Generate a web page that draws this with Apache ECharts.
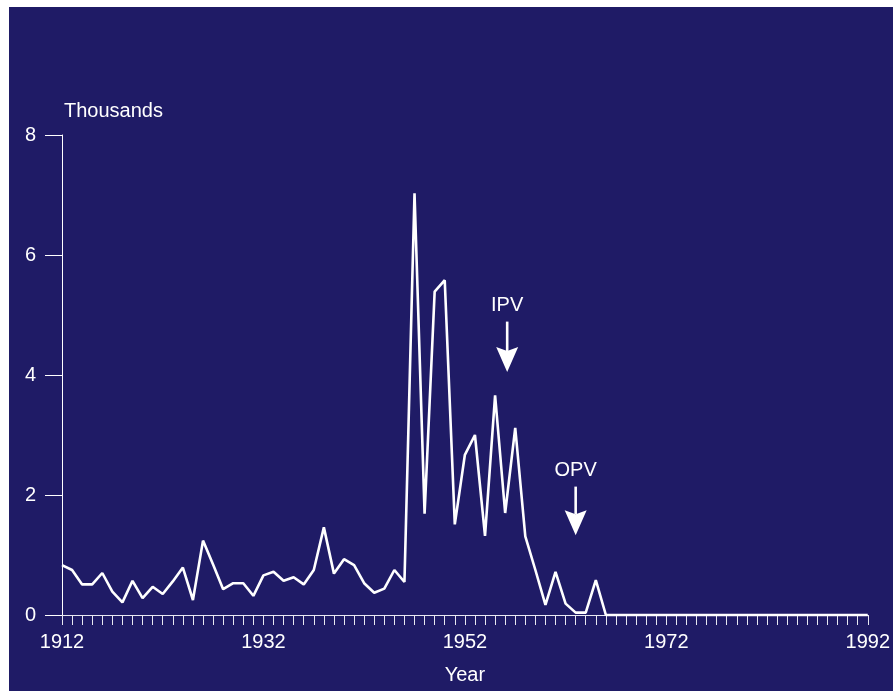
<!DOCTYPE html>
<html>
<head>
<meta charset="utf-8">
<script src="https://cdn.jsdelivr.net/npm/echarts@6/dist/echarts.min.js"></script>
<style>
  html, body { margin: 0; padding: 0; background: #ffffff; width: 893px; height: 691px; overflow: hidden; }
  #chart { position: absolute; left: 9px; top: 7px; width: 884px; height: 684px; }
</style>
</head>
<body>
<div id="chart"></div>
<script>
// Reported cases per year, in thousands
const years = [
  1912, 1913, 1914, 1915, 1916, 1917, 1918, 1919, 1920, 1921,
  1922, 1923, 1924, 1925, 1926, 1927, 1928, 1929, 1930, 1931,
  1932, 1933, 1934, 1935, 1936, 1937, 1938, 1939, 1940, 1941,
  1942, 1943, 1944, 1945, 1946, 1947, 1948, 1949, 1950, 1951,
  1952, 1953, 1954, 1955, 1956, 1957, 1958, 1959, 1960, 1961,
  1962, 1963, 1964, 1965, 1966, 1967, 1968, 1969, 1970, 1971,
  1972, 1973, 1974, 1975, 1976, 1977, 1978, 1979, 1980, 1981,
  1982, 1983, 1984, 1985, 1986, 1987, 1988, 1989, 1990, 1991,
  1992
];
const cases = [
  0.83, 0.75, 0.51, 0.51, 0.70, 0.39, 0.21, 0.57, 0.28, 0.47,
  0.35, 0.56, 0.79, 0.25, 1.24, 0.84, 0.43, 0.53, 0.53, 0.32,
  0.66, 0.72, 0.57, 0.63, 0.51, 0.75, 1.46, 0.69, 0.93, 0.83,
  0.53, 0.37, 0.44, 0.75, 0.55, 7.03, 1.69, 5.39, 5.58, 1.51,
  2.67, 3.00, 1.32, 3.66, 1.70, 3.12, 1.31, 0.75, 0.17, 0.72,
  0.19, 0.04, 0.04, 0.58, 0.00, 0.00, 0.00, 0.00, 0.00, 0.00,
  0.00, 0.00, 0.00, 0.00, 0.00, 0.00, 0.00, 0.00, 0.00, 0.00,
  0.00, 0.00, 0.00, 0.00, 0.00, 0.00, 0.00, 0.00, 0.00, 0.00,
  0.00
];
const xTicks = [1912, 1932, 1952, 1972, 1992];
const yTicks = [0, 2, 4, 6, 8];

// Vaccine introduction markers: arrow drawn from `top` down to `tip` (thousands)
const vaccineMarks = [
  { text: 'IPV', year: 1956.2, top: 4.89, tip: 4.05 },
  { text: 'OPV', year: 1963.0, top: 2.14, tip: 1.33 }
];

const FONT = '"Liberation Sans", Arial, Helvetica, sans-serif';
const INK = '#ffffff';
const AXIS_INK = '#e8e8f2';

const chart = echarts.init(document.getElementById('chart'), null, { renderer: 'canvas' });

chart.setOption({
  backgroundColor: '#1f1b66',
  animation: false,
  grid: { left: 53, right: 21, top: 128, bottom: 76, containLabel: false },
  xAxis: {
    type: 'value',
    min: xTicks[0],
    max: xTicks[xTicks.length - 1],
    interval: xTicks[1] - xTicks[0],
    name: 'Year',
    nameLocation: 'middle',
    nameGap: 60,
    nameTextStyle: { color: INK, fontSize: 20, fontFamily: FONT, verticalAlign: 'middle' },
    axisLine: { show: true, onZero: false, lineStyle: { color: AXIS_INK, width: 1 } },
    axisTick: { show: true, length: 10, lineStyle: { color: AXIS_INK, width: 1 } },
    minorTick: { show: true, splitNumber: 20, length: 10, lineStyle: { color: AXIS_INK, width: 1 } },
    axisLabel: { color: INK, fontSize: 20, fontFamily: FONT, margin: 17, formatter: v => String(v) },
    splitLine: { show: false },
    minorSplitLine: { show: false }
  },
  yAxis: {
    type: 'value',
    min: yTicks[0],
    max: yTicks[yTicks.length - 1],
    interval: yTicks[1] - yTicks[0],
    name: 'Thousands',
    nameLocation: 'end',
    nameGap: 24,
    nameTextStyle: { color: INK, fontSize: 20, fontFamily: FONT, align: 'left', verticalAlign: 'middle', padding: [0, 0, 0, 2] },
    axisLine: { show: true, lineStyle: { color: INK, width: 1 } },
    axisTick: { show: true, length: 17, lineStyle: { color: INK, width: 1 } },
    axisLabel: { color: INK, fontSize: 20, fontFamily: FONT, margin: 26 },
    splitLine: { show: false }
  },
  series: [{
    type: 'line',
    data: years.map((y, i) => [y, cases[i]]),
    symbol: 'none',
    showSymbol: false,
    clip: false,
    z: 5,
    lineStyle: { color: INK, width: 2.6, join: 'bevel' }
  }]
});

// Arrows with labels, positioned through the chart's own coordinate system
const HEAD_LEN = 25;
const HEAD_HALF = 11;
const arrowGraphics = [];
vaccineMarks.forEach(m => {
  const pTop = chart.convertToPixel({ gridIndex: 0 }, [m.year, m.top]);
  const pTip = chart.convertToPixel({ gridIndex: 0 }, [m.year, m.tip]);
  const x = pTop[0];
  arrowGraphics.push({
    type: 'line',
    shape: { x1: x, y1: pTop[1], x2: x, y2: pTip[1] - HEAD_LEN + 4 },
    style: { stroke: INK, lineWidth: 2.6 },
    z: 10
  });
  arrowGraphics.push({
    type: 'polygon',
    shape: { points: [
      [x - HEAD_HALF, pTip[1] - HEAD_LEN],
      [x, pTip[1] - HEAD_LEN + 4],
      [x + HEAD_HALF, pTip[1] - HEAD_LEN],
      [x, pTip[1]]
    ] },
    style: { fill: INK },
    z: 10
  });
  arrowGraphics.push({
    type: 'text',
    x: x,
    y: pTop[1] - 16,
    style: { text: m.text, fill: INK, font: '20px ' + FONT, align: 'center', verticalAlign: 'middle' },
    z: 10
  });
});
chart.setOption({ graphic: arrowGraphics });
</script>
</body>
</html>
